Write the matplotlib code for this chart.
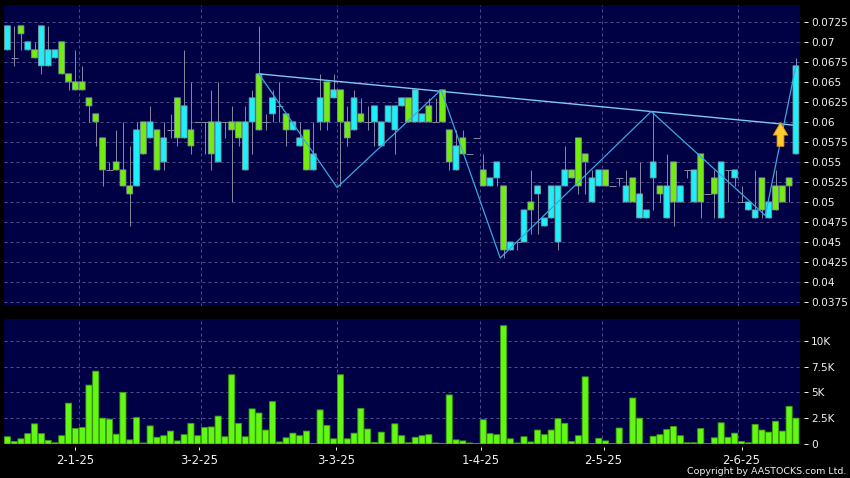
import matplotlib
matplotlib.use("Agg")
import matplotlib.pyplot as plt
import numpy as np
from matplotlib.path import Path

# daily prices
opens = [.069, .068, .072, .069, .069, .067, .067, .068, .070, .066, .065, .065, .063, .061, .058, .054, .055, .054, .052, .052,
         .060, .058, .059, .055, .059, .063, .058, .059, .060, .060, .060, .055, .060, .060, .060, .054, .060, .066, .060, .061,
         .062, .061, .059, .057, .059, .054, .060, .065, .063, .064, .060, .059, .061, .060, .060, .057, .060, .059, .062, .063,
         .060, .060, .062, .060, .064, .059, .054, .058, .056, .058, .054, .052, .053, .052, .044, .045, .045, .050, .051, .047,
         .048, .045, .052, .054, .058, .056, .050, .052, .054, .052, .053, .050, .053, .048, .048, .053, .052, .048, .055, .050,
         .054, .050, .056, .051, .053, .048, .054, .053, .050, .049, .048, .053, .048, .052, .052, .053, .056]
closes = [.072, .068, .071, .070, .068, .072, .069, .069, .066, .065, .064, .064, .062, .060, .054, .054, .054, .052, .051, .059,
          .056, .060, .054, .058, .059, .058, .062, .057, .060, .060, .056, .060, .060, .059, .058, .060, .063, .059, .060, .063,
          .062, .059, .060, .058, .054, .056, .063, .060, .064, .060, .058, .063, .060, .060, .062, .060, .062, .062, .063, .060,
          .064, .061, .060, .060, .060, .055, .057, .056, .056, .058, .052, .053, .055, .044, .045, .045, .049, .049, .052, .048,
          .052, .052, .054, .053, .052, .055, .053, .054, .052, .052, .053, .052, .050, .051, .049, .055, .051, .052, .050, .052,
          .054, .054, .050, .051, .051, .055, .054, .054, .050, .050, .049, .049, .050, .049, .050, .052, .067]
highs = [.072, .072, .072, .070, .070, .072, .072, .069, .070, .066, .069, .067, .063, .061, .058, .055, .059, .060, .057, .060,
         .060, .062, .059, .060, .061, .063, .069, .065, .060, .060, .064, .065, .060, .062, .060, .062, .064, .072, .061, .064,
         .065, .061, .060, .060, .059, .060, .066, .065, .066, .064, .062, .064, .063, .062, .062, .060, .062, .062, .063, .063,
         .064, .061, .063, .063, .064, .059, .059, .059, .056, .058, .056, .053, .055, .052, .045, .045, .049, .054, .052, .048,
         .052, .052, .057, .054, .058, .056, .054, .054, .054, .052, .053, .054, .053, .055, .049, .0612, .052, .056, .055, .052,
         .054, .054, .056, .051, .054, .055, .054, .054, .052, .050, .054, .053, .050, .054, .052, .053, .068]
lows = [.069, .067, .069, .069, .068, .066, .067, .068, .066, .064, .064, .064, .060, .057, .052, .054, .054, .052, .047, .052,
        .056, .058, .054, .054, .058, .057, .058, .056, .060, .056, .054, .055, .058, .050, .057, .054, .056, .059, .059, .060,
        .060, .057, .059, .057, .054, .054, .059, .059, .063, .052, .057, .059, .060, .059, .057, .057, .060, .056, .062, .060,
        .060, .060, .060, .060, .060, .054, .054, .056, .056, .058, .052, .052, .052, .043, .044, .044, .045, .046, .046, .047,
        .048, .044, .052, .053, .051, .051, .050, .052, .052, .052, .052, .050, .050, .048, .048, .049, .050, .048, .047, .050,
        .053, .050, .048, .051, .048, .048, .050, .052, .050, .049, .048, .048, .048, .049, .050, .050, .056]
volumes = [.7, .25, .5, 1.0, 1.95, 1.0, .35, .12, .8, 3.95, 1.5, 1.6, 5.7, 7.05, 2.5, 2.4, .95, 5.0, .4, 2.55,
           .1, 1.75, .65, .8, 1.25, .3, .9, 2.0, .8, 1.6, 1.65, 2.7, .7, 6.7, 2.0, .7, 3.4, 3.0, 1.35, 4.1,
           .2, .6, 1.05, .8, 1.25, .05, 3.3, 1.8, .5, 6.7, .5, 1.05, 3.45, 1.45, .15, 1.15, .1, 1.95, .8, .12,
           .65, .8, .9, .1, .06, 4.75, .4, .3, .1, .03, 2.35, 1.0, .9, 11.45, .5, .1, .7, .2, 1.35, .9,
           1.35, 2.45, 2.0, .25, .8, 6.5, .03, .55, .3, .06, 1.55, .03, 4.45, 2.5, .06, .75, .9, 1.4, 1.7, .8,
           .12, .12, 1.5, .03, .6, 2.05, .65, 1.05, .25, .12, 1.9, 1.35, 1.15, 2.2, 1.25, 3.65, 2.5]

price_ticks = [.0375, .04, .0425, .045, .0475, .05, .0525, .055, .0575, .06, .0625, .065, .0675, .07, .0725]
volume_ticks = [0, 2.5, 5, 7.5, 10]
volume_labels = ["0", "2.5K", "5K", "7.5K", "10K"]
date_ticks = [10, 28.2, 48.4, 69.6, 87.7, 108]
date_labels = ["2-1-25", "3-2-25", "3-3-25", "1-4-25", "2-5-25", "2-6-25"]
grid_days = [10.5, 28.5, 48.5, 69.5, 87.5, 107.5]

trend_x = [37, 115.5]
trend_y = [.066, .0596]
zigzag_x = [37, 48.5, 63.8, 72.5, 94.7, 111.5, 116]
zigzag_y = [.066, .0518, .064, .043, .0613, .0483, .067]
arrow_x = [113.6]
arrow_y = [.0585]

BG = "#000044"
GRID = "#4c4c8c"
CYAN = "#1cf0f8"
GREEN = "#74ec10"
EDGE = "#7c9c9c"
WICK = "#84849e"
TEXT = "#f0f0f0"
PX = 0.72  # one pixel in points at dpi 100

plt.rcParams["font.family"] = "DejaVu Sans"
plt.rcParams["font.size"] = 7.6

fig = plt.figure(figsize=(8.5, 4.78), dpi=100, facecolor="black")
ax = fig.add_axes([4 / 850, 172 / 478, 796 / 850, 301 / 478], facecolor=BG)
vol_ax = fig.add_axes([4 / 850, 34 / 478, 796 / 850, 125 / 478], facecolor=BG)

days = np.arange(len(opens))
opens = np.array(opens)
closes = np.array(closes)
up = closes > opens
down = closes < opens
flat = closes == opens

ax.vlines(days, lows, highs, color=WICK, lw=PX, zorder=2)
ax.hlines(opens[flat], days[flat] - 0.5, days[flat] + 0.5, color=WICK, lw=PX, zorder=2)
ax.bar(days[up], (closes - opens)[up], 0.86, opens[up], color=CYAN, edgecolor=EDGE, lw=0.6, zorder=3, snap=False)
ax.bar(days[down], (closes - opens)[down], 0.86, opens[down], color=GREEN, edgecolor=EDGE, lw=0.6, zorder=3, snap=False)

ax.plot(trend_x, trend_y, color="#7cc8f0", lw=1.0, zorder=4)
ax.plot(zigzag_x, zigzag_y, color="#38a8e0", lw=0.9, zorder=4)

up_arrow = Path([(0, 1), (-0.62, -0.05), (-0.29, -0.05), (-0.29, -1), (0.29, -1), (0.29, -0.05), (0.62, -0.05), (0, 1)], closed=True)
ax.plot(arrow_x, arrow_y, marker=up_arrow, ms=17, mfc="#ffcc30", mec="#e89010", mew=0.6, ls="none", zorder=5)

vol_ax.bar(days, volumes, 0.9, color="#62f812", edgecolor="#3c9c10", lw=0.6, zorder=3, snap=False)

for a in (ax, vol_ax):
    a.set_xlim(-0.5, 116.6)
    a.yaxis.tick_right()
    a.grid(axis="y", color=GRID, ls=(0, (3, 3)), lw=PX, zorder=1)
    for x in grid_days:
        a.axvline(x, color=GRID, ls=(0, (3, 3)), lw=PX, zorder=1)
    for s in ("left", "top", "bottom"):
        a.spines[s].set_visible(False)
    a.spines["right"].set_position(("outward", 3))
    a.spines["right"].set_visible(False)
    a.tick_params(axis="y", colors=TEXT, length=3, width=PX, pad=2)

ax.set_ylim(.037, .0746)
ax.set_yticks(price_ticks)
ax.set_yticklabels(["%g" % v for v in price_ticks])
ax.set_xticks([])

vol_ax.set_ylim(0, 12.1)
vol_ax.set_yticks(volume_ticks)
vol_ax.set_yticklabels(volume_labels)
vol_ax.spines["bottom"].set_position(("outward", 2))
vol_ax.set_xticks(date_ticks)
vol_ax.set_xticklabels(date_labels, fontsize=8.4)
vol_ax.tick_params(axis="x", colors=TEXT, length=2.5, width=PX, pad=2.5)

fig.text(846 / 850, 7 / 478, "Copyright by AASTOCKS.com Ltd.", color=TEXT, fontsize=6.8, ha="right", va="center")

fig.savefig("out.png", dpi=100, facecolor="black")
